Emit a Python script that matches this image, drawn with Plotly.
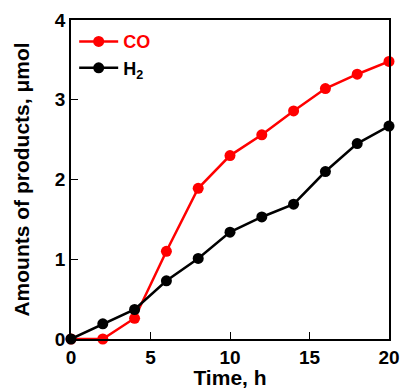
import plotly.graph_objects as go

time_h = [0, 2, 4, 6, 8, 10, 12, 14, 16, 18, 20]
co_umol = [0.0, 0.0, 0.26, 1.10, 1.89, 2.30, 2.56, 2.86, 3.14, 3.32, 3.48]
h2_umol = [0.0, 0.19, 0.37, 0.73, 1.01, 1.34, 1.53, 1.69, 2.10, 2.45, 2.67]
x_ticks = [0, 5, 10, 15, 20]
y_ticks = [0, 1, 2, 3, 4]

FONT = "Liberation Sans, Arial, sans-serif"

fig = go.Figure()
fig.add_trace(go.Scatter(
    x=time_h, y=co_umol, mode="lines+markers",
    name="<span style='color:#ff0000'>CO</span>",
    line=dict(color="#ff0000", width=2.5),
    marker=dict(color="#ff0000", size=11),
    cliponaxis=False,
))
fig.add_trace(go.Scatter(
    x=time_h, y=h2_umol, mode="lines+markers",
    name="H<sub>2</sub>",
    line=dict(color="#000000", width=2.5),
    marker=dict(color="#000000", size=11),
    cliponaxis=False,
))

tickfont = dict(family=FONT, size=19, color="black", weight="bold")
titlefont = dict(family=FONT, size=21, color="black", weight="bold")

fig.update_layout(
    width=400, height=389,
    margin=dict(l=71, r=11, t=20, b=50, autoexpand=False),
    paper_bgcolor="white", plot_bgcolor="white",
    font=dict(family=FONT, size=15, color="black"),
    showlegend=True,
    legend=dict(x=0.01, y=0.99, xanchor="left", yanchor="top",
                bgcolor="rgba(0,0,0,0)",
                font=dict(size=18, family=FONT, weight="bold", color="black"),
                tracegroupgap=0, itemwidth=39),
    xaxis=dict(
        range=[0, 20], tickvals=x_ticks, automargin=False,
        tickfont=tickfont,
        ticks="inside", ticklen=7, tickwidth=1.2, tickcolor="black",
        showline=True, linecolor="black", linewidth=1.5, mirror=True,
        showgrid=False, zeroline=False,
        title=dict(text="Time, h", font=titlefont, standoff=3),
    ),
    yaxis=dict(
        range=[0, 4], tickvals=y_ticks, automargin=False,
        tickfont=tickfont,
        ticks="inside", ticklen=7, tickwidth=1.2, tickcolor="black",
        showline=True, linecolor="black", linewidth=1.5, mirror=True,
        showgrid=False, zeroline=False,
        title=dict(text="Amounts of products, μmol", font=titlefont, standoff=20),
    ),
)

fig.write_html("out.html")
